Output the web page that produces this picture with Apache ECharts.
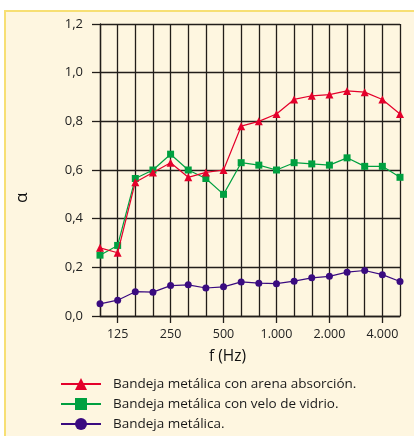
<script src="https://cdn.jsdelivr.net/npm/echarts@6.0.0/dist/echarts.min.js"></script>
<style>
  html, body { margin: 0; padding: 0; background: #fff; }
  #frame {
    position: absolute; left: 4px; top: 10px; width: 420px; height: 440px;
    background: #fef6e0; border-top: 2px solid #f7df73; border-left: 2px solid #f7df73;
  }
  #chart { position: absolute; left: 0; top: 0; width: 414px; height: 436px; }
</style>
<div id="frame"></div>
<div id="chart"></div>
<script>
  const freqs = ['100', '125', '160', '200', '250', '315', '400', '500', '630',
    '800', '1000', '1250', '1600', '2000', '2500', '3150', '4000', '5000'];
  const freqLabels = ['', '125', '', '', '250', '', '', '500', '',
    '', '1.000', '', '', '2.000', '', '', '4.000', ''];

  const arena = [0.28, 0.26, 0.55, 0.59, 0.63, 0.57, 0.59, 0.60, 0.78,
    0.80, 0.83, 0.89, 0.905, 0.91, 0.925, 0.92, 0.89, 0.83];
  const velo = [0.25, 0.29, 0.565, 0.60, 0.665, 0.60, 0.565, 0.50, 0.63,
    0.62, 0.60, 0.63, 0.625, 0.62, 0.65, 0.615, 0.615, 0.57];
  const bandeja = [0.05, 0.065, 0.10, 0.098, 0.125, 0.128, 0.115, 0.12, 0.14,
    0.135, 0.133, 0.143, 0.157, 0.163, 0.18, 0.187, 0.17, 0.142];

  const font = '"Open Sans", sans-serif';
  const gridColor = '#221e1a';
  const labeled = (i) => freqLabels[i] !== '';

  const myChart = echarts.init(document.getElementById('chart'), null, { renderer: 'canvas' });

  const option = {
    backgroundColor: 'transparent',
    animation: false,
    textStyle: { fontFamily: font },
    grid: { left: 100, right: 14, top: 24, bottom: 120 },
    xAxis: {
      type: 'category',
      data: freqs,
      boundaryGap: false,
      axisLine: { lineStyle: { color: gridColor, width: 1.3 } },
      axisTick: { show: true, interval: (i) => labeled(i), length: 7, lineStyle: { color: gridColor, width: 1.3 } },
      axisLabel: {
        interval: (i) => labeled(i),
        formatter: (v, i) => freqLabels[i],
        margin: 12, color: '#222', fontSize: 12.5, fontFamily: font
      },
      splitLine: { show: true, interval: 0, lineStyle: { color: gridColor, width: 1.3 } }
    },
    yAxis: {
      type: 'value',
      min: 0, max: 1.2, interval: 0.2,
      axisLine: { show: true, lineStyle: { color: gridColor, width: 1.3 } },
      axisTick: { show: true, length: 8, lineStyle: { color: gridColor, width: 1.3 } },
      axisLabel: {
        formatter: (v) => v.toFixed(1).replace('.', ','),
        margin: 17, color: '#222', fontSize: 13, fontFamily: font
      },
      splitLine: { show: true, lineStyle: { color: gridColor, width: 1.3 } }
    },
    title: {
      text: 'f (Hz)', left: 204, top: 344,
      textStyle: { fontSize: 15.5, fontWeight: 'normal', color: '#111', fontFamily: font }
    },
    graphic: [{
      type: 'text', x: 14, y: 203, rotation: Math.PI / 2,
      style: { text: 'α', fontSize: 17, fill: '#111', fontFamily: font }
    }],
    legend: {
      orient: 'vertical', left: 60, top: 377, padding: 0,
      itemWidth: 40, itemHeight: 15, itemGap: 6,
      textStyle: { fontSize: 13.5, color: '#1a1a1a', fontFamily: font, padding: [0, 0, 0, 7] },
      data: ['Bandeja metálica con arena absorción.', 'Bandeja metálica con velo de vidrio.', 'Bandeja metálica.']
    },
    series: [
      {
        name: 'Bandeja metálica con arena absorción.', type: 'line', data: arena,
        symbol: 'triangle', symbolSize: 8, z: 4,
        itemStyle: { color: '#e4002b' }, lineStyle: { color: '#e4002b', width: 1.2 }
      },
      {
        name: 'Bandeja metálica con velo de vidrio.', type: 'line', data: velo,
        symbol: 'rect', symbolSize: 7, z: 3,
        itemStyle: { color: '#00a040' }, lineStyle: { color: '#00a040', width: 1.2 }
      },
      {
        name: 'Bandeja metálica.', type: 'line', data: bandeja,
        symbol: 'circle', symbolSize: 7, z: 2,
        itemStyle: { color: '#3a0b80' }, lineStyle: { color: '#3a0b80', width: 1.2 }
      }
    ]
  };
  myChart.setOption(option);
</script>
